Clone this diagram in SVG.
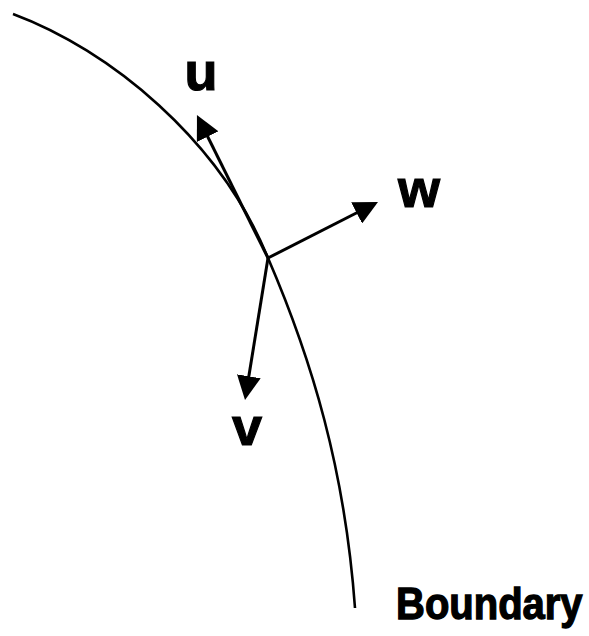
<svg xmlns="http://www.w3.org/2000/svg" width="589" height="636" viewBox="0 0 589 636">
<style>
.lbl{font-family:"Liberation Sans",Arial,sans-serif;font-weight:bold;fill:#000;stroke:#000;stroke-width:1.2}
.big{font-size:54px;text-anchor:middle}
.bnd{font-size:40px}
.vec{stroke:#000;stroke-width:3;fill:none}
.bound{stroke:#000;stroke-width:2.6;fill:none}
</style>
<defs>
<marker id="ah" viewBox="0 0 24 24" refX="14" refY="12" markerWidth="24" markerHeight="24" markerUnits="userSpaceOnUse" orient="auto">
<path d="M0,0 L24,12 L0,24 z" fill="#000"/>
</marker>
</defs>
<rect width="589" height="636" fill="#fff"/>
<g id="boundary">
<path class="bound" d="M13,14 C110,50 220,140 268,258 C312,360 345,470 355,608"/>
<text class="lbl bnd" transform="translate(396,619) scale(1,1.1)" x="0" y="0">Boundary</text>
</g>
<g id="connectors">
<line class="vec" x1="268" y1="258" x2="201.4" y2="124" marker-end="url(#ah)"/>
<line class="vec" x1="268" y1="258" x2="369.1" y2="206.5" marker-end="url(#ah)"/>
<line class="vec" x1="268" y1="258" x2="246.6" y2="390.1" marker-end="url(#ah)"/>
</g>
<g id="u"><text class="lbl big" x="201" y="90">u</text></g>
<g id="w"><text class="lbl big" x="419" y="207">w</text></g>
<g id="v"><text class="lbl big" x="247" y="445">v</text></g>
</svg>
